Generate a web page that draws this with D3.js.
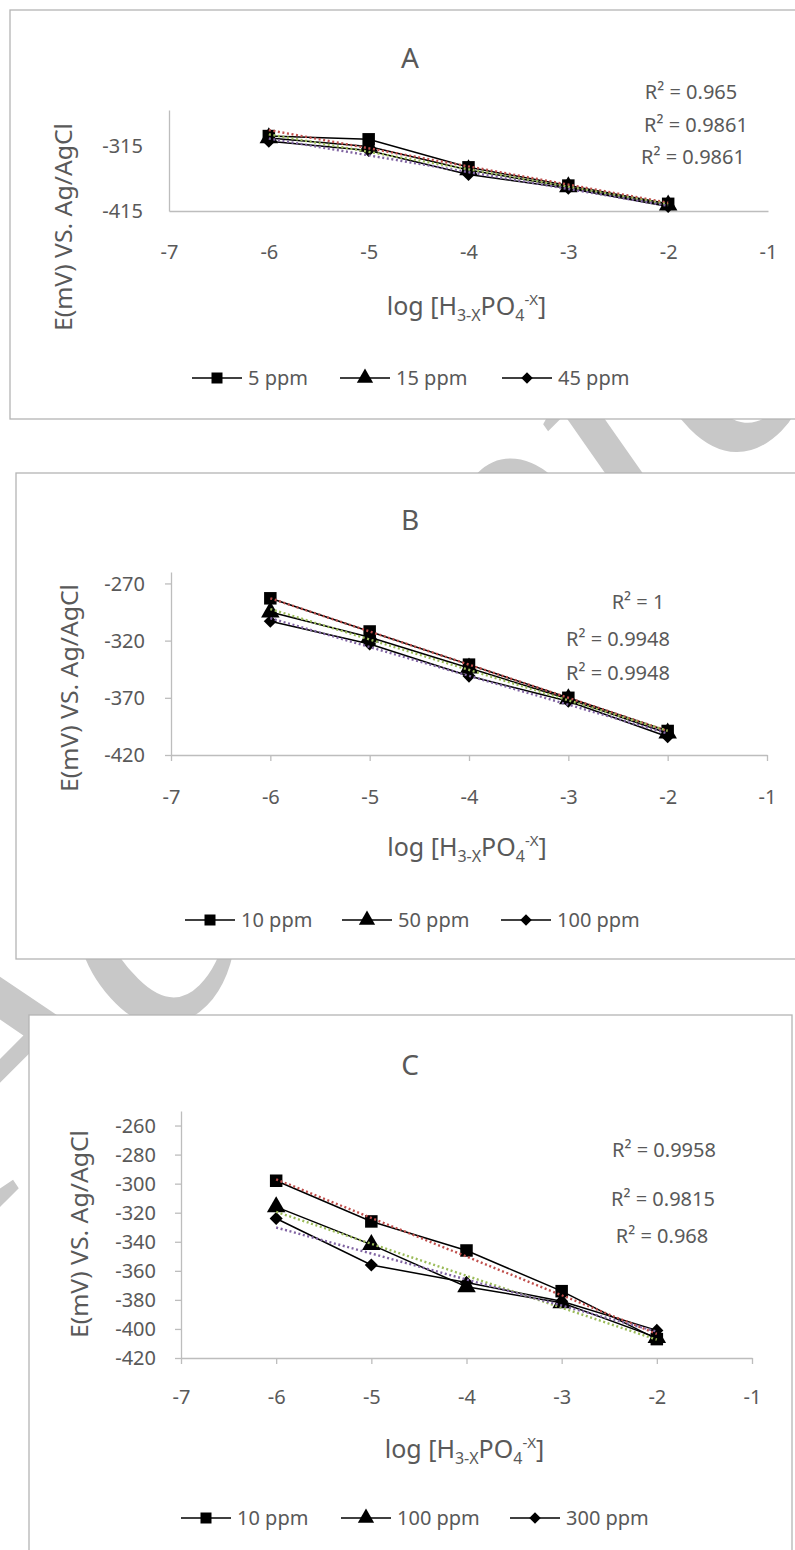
<!DOCTYPE html>
<html>
<head>
<meta charset="utf-8">
<script src="https://cdn.jsdelivr.net/npm/d3@7"></script>
<style>
	body { margin: 0; background: #fff; }
	svg text { font-family: "Noto Sans", "Open Sans", sans-serif; fill: #595959; }
</style>
</head>
<body>
<script>

// x values (log of concentration) and axis ticks, shared by all panels
var logConc = [-6, -5, -4, -3, -2]
var xTickValues = [-7, -6, -5, -4, -3, -2, -1]

// Panel A
var namesA = ["5 ppm", "15 ppm", "45 ppm"]
var a5ppm = [-300, -305, -348, -376, -404]
var a15ppm = [-303, -316, -352, -378, -406]
var a45ppm = [-308, -322, -359, -380, -408]
var r2A = ["0.965", "0.9861", "0.9861"]
var yTicksA = [-415, -315]

// Panel B
var namesB = ["10 ppm", "50 ppm", "100 ppm"]
var b10ppm = [-283, -312, -341, -370, -399]
var b50ppm = [-295, -317, -344, -371, -401]
var b100ppm = [-303, -323, -351, -373, -404]
var r2B = ["1", "0.9948", "0.9948"]
var yTicksB = [-420, -370, -320, -270]

// Panel C
var namesC = ["10 ppm", "100 ppm", "300 ppm"]
var c10ppm = [-298, -326, -346, -374, -407]
var c100ppm = [-316, -342, -371, -382, -406]
var c300ppm = [-324, -356, -368, -381, -401]
var r2C = ["0.9958", "0.9815", "0.968"]
var yTicksC = [-420, -400, -380, -360, -340, -320, -300, -280, -260]

var trendColors = ["#c0504d", "#9bbb59", "#8064a2"]
var axisColor = "#bdbdbd"

// layout of each panel (pixels), data comes from the arrays above
var panels = [
	{
		title: "A", series: [a5ppm, a15ppm, a45ppm], names: namesA, r2: r2A,
		yDomain: [-415, -260], yTicks: yTicksA,
		frame: [10, 10, 810, 419], left: 169, right: 768, top: 110, bottom: 211,
		tickLen: 0, yPad: 26, xPad: 34, titleY: 68, yTitle: [72, 227], xTitleY: 315,
		legendY: 378, legendX: [192, 340, 502],
		r2Pos: [[691, 99], [696, 132], [693, 164]]
	},
	{
		title: "B", series: [b10ppm, b50ppm, b100ppm], names: namesB, r2: r2B,
		yDomain: [-420, -260], yTicks: yTicksB,
		frame: [16, 473, 806, 959], left: 171, right: 767, top: 572, bottom: 755,
		tickLen: 6, yPad: 20, xPad: 29, titleY: 530, yTitle: [78, 688], xTitleY: 856,
		legendY: 920, legendX: [185, 342, 501],
		r2Pos: [[638, 609], [618, 646], [618, 680]]
	},
	{
		title: "C", series: [c10ppm, c100ppm, c300ppm], names: namesC, r2: r2C,
		yDomain: [-420, -250], yTicks: yTicksC,
		frame: [29, 1015, 792, 1570], left: 181, right: 752, top: 1111, bottom: 1358,
		tickLen: 6, yPad: 19, xPad: 26, titleY: 1075, yTitle: [88, 1234], xTitleY: 1458,
		legendY: 1518, legendX: [181, 341, 510],
		r2Pos: [[664, 1157], [663, 1206], [662, 1243]]
	}
]

var width = 795, height = 1550

var svg = d3.select("body").append("svg")
	.attr("width", width)
	.attr("height", height)

// faint watermark behind the panels
svg.append("text")
	.attr("transform", "translate(-15,1222) rotate(-45)")
	.style("font-family", "'Liberation Serif', serif")
	.style("font-style", "italic")
	.style("font-size", "385px")
	.style("fill", "#c8c8c8")
	.text("Accepted")

panels.forEach(drawPanel)

function marker(g, i, size) {
	// square, triangle, diamond like the excel markers
	if (i == 0)
		return g.append("path").attr("d", d3.symbol(d3.symbolSquare, size * size)())
	if (i == 1)
		return g.append("path").attr("d", d3.symbol(d3.symbolTriangle, size * size * 0.95)())
	return g.append("path").attr("d", d3.symbol(d3.symbolSquare, size * size * 0.55)())
		.attr("transform", "rotate(45)")
}

function linearFit(xs, ys) {
	var mx = d3.mean(xs), my = d3.mean(ys)
	var sxy = d3.sum(xs, (x, i) => (x - mx) * (ys[i] - my))
	var sxx = d3.sum(xs, x => (x - mx) * (x - mx))
	var slope = sxy / sxx
	return x => my + slope * (x - mx)
}

function drawPanel(p) {
	var g = svg.append("g")

	g.append("rect")
		.attr("x", p.frame[0]).attr("y", p.frame[1])
		.attr("width", p.frame[2] - p.frame[0])
		.attr("height", p.frame[3] - p.frame[1])
		.attr("fill", "#fff")
		.attr("stroke", "#b4b4b4")
		.attr("stroke-width", 1.3)

	var x = d3.scaleLinear().domain([-7, -1]).range([p.left, p.right])
	var y = d3.scaleLinear().domain(p.yDomain).range([p.bottom, p.top])

	// axes, plain hyphen as minus sign
	var yAxis = g.append("g")
		.attr("transform", "translate(" + p.left + ",0)")
		.call(d3.axisLeft(y).tickValues(p.yTicks).tickSize(p.tickLen).tickSizeOuter(0)
			.tickPadding(p.yPad).tickFormat(d => String(d)))
	var xAxis = g.append("g")
		.attr("transform", "translate(0," + p.bottom + ")")
		.call(d3.axisBottom(x).tickValues(xTickValues).tickSize(p.tickLen).tickSizeOuter(0)
			.tickPadding(p.xPad).tickFormat(d => String(d)))

	;[xAxis, yAxis].forEach(a => {
		a.attr("color", axisColor)
		a.selectAll("path, line").attr("stroke-width", 1.3)
		a.selectAll("text").style("font-size", "20px").style("fill", "#595959").attr("font-family", null)
	})
	yAxis.selectAll("text").attr("dy", "0.34em")

	// panel title
	g.append("text")
		.attr("x", 410).attr("y", p.titleY)
		.attr("text-anchor", "middle")
		.style("font-size", "28px")
		.text(p.title)

	// y title
	g.append("text")
		.attr("transform", "translate(" + p.yTitle[0] + "," + p.yTitle[1] + ") rotate(-90)")
		.attr("text-anchor", "middle")
		.attr("textLength", 208)
		.attr("lengthAdjust", "spacingAndGlyphs")
		.style("font-size", "24px")
		.text("E(mV) VS.  Ag/AgCl")

	// x title with sub and superscripts
	var xt = g.append("text")
		.attr("x", (p.left + p.right) / 2 - 2).attr("y", p.xTitleY)
		.attr("text-anchor", "middle")
		.style("font-size", "25px")
	xt.append("tspan").text("log [H")
	xt.append("tspan").attr("dy", 6).style("font-size", "16px").text("3-X")
	xt.append("tspan").attr("dy", -6).text("PO")
	xt.append("tspan").attr("dy", 6).style("font-size", "16px").text("4")
	xt.append("tspan").attr("dy", -16).style("font-size", "15px").text("-X")
	xt.append("tspan").attr("dy", 10).text("]")

	// series lines
	var line = d3.line().x((d, i) => x(logConc[i])).y(d => y(d))
	p.series.forEach(s => {
		g.append("path")
			.datum(s)
			.attr("d", line)
			.attr("fill", "none")
			.attr("stroke", "#000")
			.attr("stroke-width", 1.5)
	})

	// markers
	p.series.forEach((s, k) => {
		s.forEach((v, i) => {
			var m = g.append("g").attr("transform", "translate(" + x(logConc[i]) + "," + y(v) + ")")
			marker(m, k, 12.5).attr("fill", "#000")
		})
	})

	// dotted linear trendlines on top
	p.series.forEach((s, k) => {
		var f = linearFit(logConc, s)
		g.append("line")
			.attr("x1", x(logConc[0])).attr("y1", y(f(logConc[0])))
			.attr("x2", x(logConc[4])).attr("y2", y(f(logConc[4])))
			.attr("stroke", trendColors[k])
			.attr("stroke-width", 2.4)
			.attr("stroke-dasharray", "2,2.6")
	})

	// R squared labels
	p.r2.forEach((r, k) => {
		g.append("text")
			.attr("x", p.r2Pos[k][0]).attr("y", p.r2Pos[k][1])
			.attr("text-anchor", "middle")
			.style("font-size", "20px")
			.text("R\u00b2 = " + r)
	})

	// legend
	p.names.forEach((n, k) => {
		var lx = p.legendX[k]
		g.append("line")
			.attr("x1", lx).attr("x2", lx + 50)
			.attr("y1", p.legendY).attr("y2", p.legendY)
			.attr("stroke", "#000").attr("stroke-width", 1.5)
		var m = g.append("g").attr("transform", "translate(" + (lx + 25) + "," + p.legendY + ")")
		marker(m, k, 11).attr("fill", "#000")
		g.append("text")
			.attr("x", lx + 56).attr("y", p.legendY + 7)
			.style("font-size", "20px")
			.text(n)
	})
}
</script>
</body>
</html>
